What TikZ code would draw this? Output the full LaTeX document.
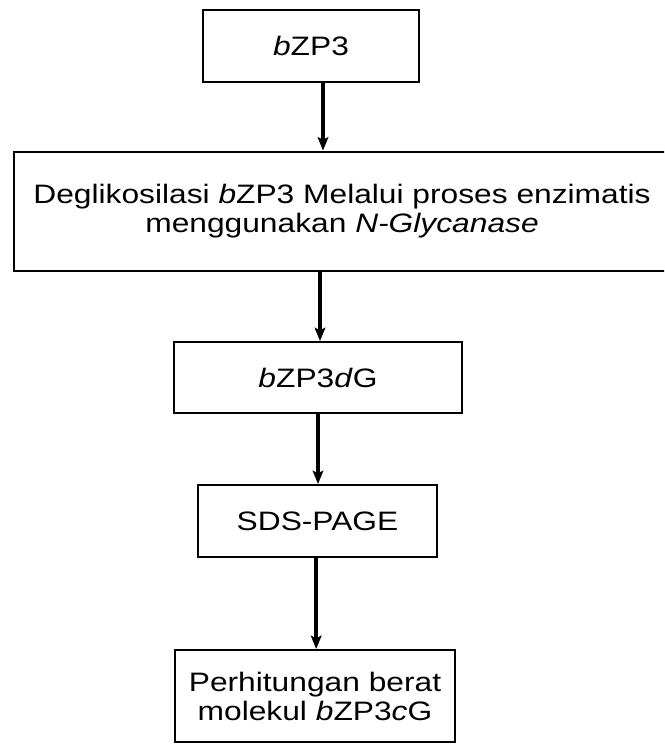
\documentclass[tikz,border=0pt]{standalone}
\usepackage{fontspec}
\setmainfont[FakeStretch=1.19]{Liberation Sans}
\usetikzlibrary{arrows.meta}
\begin{document}
\begin{tikzpicture}[x=0.75pt,y=-0.75pt,
  font=\fontsize{20}{21.75}\selectfont,
  box/.style={draw=black,line width=1.5pt,fill=white,inner sep=0pt,align=center,
              rectangle,anchor=center},
  flow/.style={line width=2.6pt,-{Stealth[length=10pt,width=8pt,inset=2pt]}}]
  % page frame (clips the wide box at the right edge)
  \clip (0,0) rectangle (664,746);
  \fill[white] (0,0) rectangle (664,746);

  % process boxes
  \node[box,minimum width=162pt,minimum height=54pt] (b1) at (311,46) {\textit{b}ZP3};
  \node[box,minimum width=492pt,minimum height=89.25pt] (b2) at (342,211)
       {Deglikosilasi \textit{b}ZP3 Melalui proses enzimatis\\menggunakan \textit{N-Glycanase}};
  \node[box,minimum width=216pt,minimum height=53.25pt] (b3) at (318,377.5) {\textit{b}ZP3\textit{d}G};
  \node[box,minimum width=179.25pt,minimum height=54pt] (b4) at (317.5,521) {SDS-PAGE};
  \node[box,minimum width=210pt,minimum height=69pt] (b5) at (315,696)
       {Perhitungan berat\\molekul \textit{b}ZP3\textit{c}G};

  % connectors
  \draw[flow] ([xshift=9pt]b1.south) -- ([xshift=9pt]b1.south |- b2.north);
  \draw[flow] ([xshift=-16.5pt]b2.south) -- ([xshift=-16.5pt]b2.south |- b3.north);
  \draw[flow] (b3.south) -- (b3.south |- b4.north);
  \draw[flow] ([xshift=-1pt]b4.south) -- ([xshift=-1pt]b4.south |- b5.north);
\end{tikzpicture}
\end{document}
